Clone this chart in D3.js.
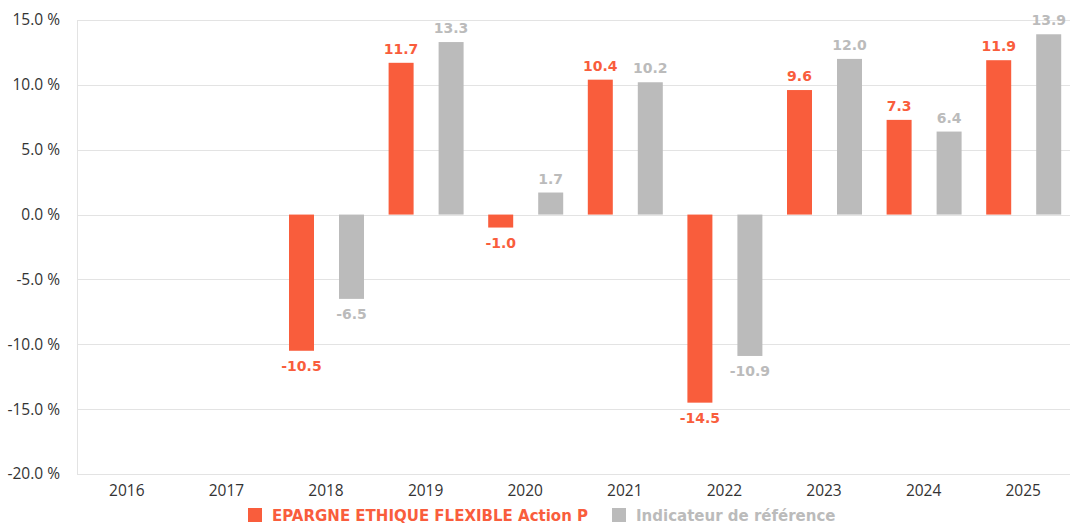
<!DOCTYPE html>
<html>
<head>
<meta charset="utf-8">
<script src="https://cdn.jsdelivr.net/npm/d3@7"></script>
<style>
  body { margin: 0; background: #fff; }
  svg text { font-family: "Open Sans", "Noto Sans", sans-serif; }
  .tick text { fill: #333; font-size: 15.5px; }
  .val { font-family: "DejaVu Sans", sans-serif; font-weight: 700; font-size: 14px; }
  .legend text { font-family: "DejaVu Sans", sans-serif; font-weight: 700; font-size: 15px; }
</style>
</head>
<body>
<div id="chart"></div>
<script>
/* DATA */
const years = ["2016", "2017", "2018", "2019", "2020", "2021", "2022", "2023", "2024", "2025"];
const fundValues = [null, null, -10.5, 11.7, -1.0, 10.4, -14.5, 9.6, 7.3, 11.9];
const benchValues = [null, null, -6.5, 13.3, 1.7, 10.2, -10.9, 12.0, 6.4, 13.9];
const seriesNames = ["EPARGNE ETHIQUE FLEXIBLE Action P", "Indicateur de référence"];
const yTicks = [-20, -15, -10, -5, 0, 5, 10, 15];

const width = 1070, height = 525;
const margin = { top: 20, right: -3, bottom: 51, left: 77 };
const colors = ["#f95d3c", "#bbbbbb"];

// plain hyphen instead of unicode minus
const fmt = v => d3.format(".1f")(v).replace("\u2212", "-");

const svg = d3.select("#chart").append("svg")
  .attr("width", width)
  .attr("height", height);

const xScale = d3.scaleBand()
  .domain(years)
  .range([margin.left, width - margin.right]);

const xSub = d3.scaleBand()
  .domain([0, 1])
  .range([0, 75])
  .paddingInner(0.5);

const yScale = d3.scaleLinear()
  .domain([-20, 15])
  .range([height - margin.bottom, margin.top]);

// grid
svg.append("g")
  .selectAll("line")
  .data(yTicks)
  .join("line")
  .attr("x1", margin.left)
  .attr("x2", width)
  .attr("y1", d => Math.round(yScale(d)) + 0.5)
  .attr("y2", d => Math.round(yScale(d)) + 0.5)
  .attr("stroke", "#e3e3e3")
  .attr("stroke-width", 1);

// left axis line
svg.append("line")
  .attr("x1", margin.left + 0.5).attr("x2", margin.left + 0.5)
  .attr("y1", margin.top).attr("y2", height - margin.bottom)
  .attr("stroke", "#e3e3e3");

// y axis
const yAxis = d3.axisLeft(yScale)
  .tickValues(yTicks)
  .tickSize(0)
  .tickPadding(17)
  .tickFormat(d => fmt(d) + " %");

svg.append("g")
  .attr("transform", `translate(${margin.left},0)`)
  .call(yAxis)
  .call(g => g.select(".domain").remove());

// x axis
const xAxis = d3.axisBottom(xScale).tickSize(0).tickPadding(11);
svg.append("g")
  .attr("transform", `translate(0,${height - margin.bottom})`)
  .call(xAxis)
  .call(g => g.select(".domain").remove());

// bars
const series = [fundValues, benchValues];
series.forEach((vals, si) => {
  const data = years.map((y, i) => ({ year: y, value: vals[i] })).filter(d => d.value !== null);
  const xPos = d => xScale(d.year) + xScale.bandwidth() / 2 - 37 + xSub(si);

  svg.append("g")
    .selectAll("rect")
    .data(data)
    .join("rect")
    .attr("x", xPos)
    .attr("width", xSub.bandwidth())
    .attr("y", d => yScale(Math.max(0, d.value)))
    .attr("height", d => Math.abs(yScale(d.value) - yScale(0)))
    .attr("fill", colors[si]);

  svg.append("g")
    .selectAll("text")
    .data(data)
    .join("text")
    .attr("class", "val")
    .attr("x", d => xPos(d) + xSub.bandwidth() / 2)
    .attr("y", d => d.value >= 0 ? yScale(d.value) - 9 : yScale(d.value) + 20)
    .attr("text-anchor", "middle")
    .attr("fill", colors[si])
    .text(d => fmt(d.value));
});

// legend
const legend = svg.append("g").attr("class", "legend");
const legendX = [248, 612];
seriesNames.forEach((name, i) => {
  legend.append("rect")
    .attr("x", legendX[i]).attr("y", 508)
    .attr("width", 14).attr("height", 14)
    .attr("fill", colors[i]);
  legend.append("text")
    .attr("x", legendX[i] + 24).attr("y", 521)
    .attr("fill", colors[i])
    .text(name);
});
</script>
</body>
</html>
